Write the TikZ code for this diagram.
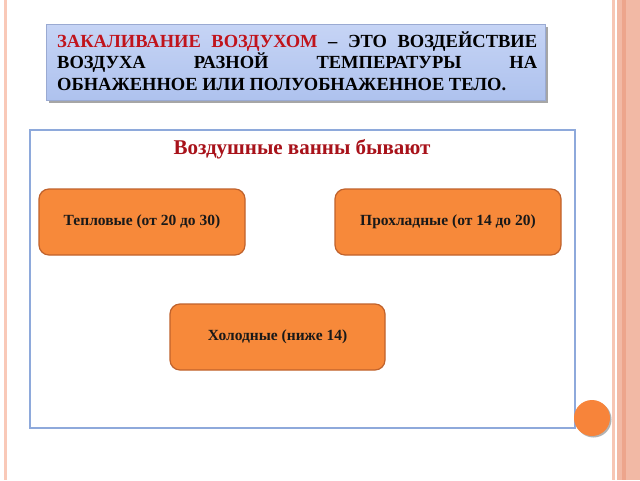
\documentclass[tikz,border=0pt]{standalone}
\usepackage{fontspec}
\setmainfont{Liberation Serif}
\usetikzlibrary{shadows}
\definecolor{stripeL}{HTML}{F9C9B8}
\definecolor{stripeA}{HTML}{F7C6B4}
\definecolor{stripeB}{HTML}{F2B9A5}
\definecolor{stripeC}{HTML}{EDA58C}
\definecolor{titletop}{HTML}{C6D4F5}
\definecolor{titlebot}{HTML}{AEC2EE}
\definecolor{titleedge}{HTML}{9AAAD2}
\definecolor{redtxt}{HTML}{C0141C}
\definecolor{headred}{HTML}{A8121A}
\definecolor{frameblue}{HTML}{8EA9DB}
\definecolor{boxfill}{HTML}{F7893A}
\definecolor{boxedge}{HTML}{C0622C}
\definecolor{dot}{HTML}{F7843A}
\tikzset{
  titleline/.style={anchor=base west, inner sep=0pt, font=\fontsize{18.5}{22}\selectfont\bfseries, text=black},
  kindbox/.style={draw=boxedge, line width=1.2pt, fill=boxfill, rounded corners=10pt,
    minimum height=66pt, inner sep=0pt, font=\fontsize{15.5}{18}\selectfont\bfseries, text=black!90},
}
\begin{document}
\begin{tikzpicture}[x=1pt,y=-1pt]
\path[use as bounding box] (0,0) rectangle (640,480);
\fill[white] (0,0) rectangle (640,480);
% side stripes
\fill[stripeL] (4,0) rectangle (7,480);
\fill[stripeA] (612,0) rectangle (614.5,480);
\fill[stripeB] (617,0) rectangle (640,480);
\fill[stripeC] (622,0) rectangle (626,480);
% title box
\fill[black!35] (49,27) rectangle (548,103);
\shade[top color=titletop, bottom color=titlebot, draw=titleedge, line width=0.8pt] (46,24) rectangle (545,100);
\node[titleline] (t1) at (57,47) {\makebox[480pt][s]{\textcolor{redtxt}{ЗАКАЛИВАНИЕ ВОЗДУХОМ} – ЭТО ВОЗДЕЙСТВИЕ}};
\node[titleline] (t2) at (57,68.5) {\makebox[480pt][s]{ВОЗДУХА РАЗНОЙ ТЕМПЕРАТУРЫ НА}};
\node[titleline] (t3) at (57,90) {ОБНАЖЕННОЕ ИЛИ ПОЛУОБНАЖЕННОЕ ТЕЛО.};
% content frame
\draw[frameblue, line width=1.6pt] (30,130) rectangle (575,428);
\node[anchor=base, inner sep=0pt, font=\fontsize{21}{24}\selectfont\bfseries, text=headred] (head) at (302,154) {Воздушные ванны бывают};
% boxes
\node[kindbox, minimum width=206pt] (warm) at (142,222) {Тепловые (от 20 до 30)};
\node[kindbox, minimum width=226pt] (cool) at (448,222) {Прохладные (от 14 до 20)};
\node[kindbox, minimum width=215pt] (cold) at (277.5,337) {Холодные (ниже 14)};
% dot
\fill[black!30] (593.5,419.5) circle (18);
\fill[dot] (592,418) circle (18);
\end{tikzpicture}
\end{document}
